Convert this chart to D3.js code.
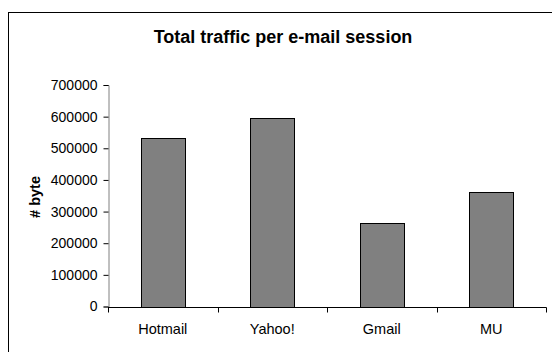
<!DOCTYPE html>
<html><head><meta charset="utf-8">
<script src="https://cdn.jsdelivr.net/npm/d3@7"></script>
<style>body{margin:0;background:#fff}svg{display:block}</style>
</head><body><svg id="c" width="552" height="352"></svg>
<script>
const categories = ["Hotmail", "Yahoo!", "Gmail", "MU"];
const values = [534000, 595000, 265000, 361000];
const yTicks = [0, 100000, 200000, 300000, 400000, 500000, 600000, 700000];
const title = "Total traffic per e-mail session";
const yLabel = "# byte";

(function () {
const svg = d3.select("#c");
const font = "'Liberation Sans', Arial, sans-serif";
svg.append("rect").attr("x", 8.5).attr("y", 12.5).attr("width", 560).attr("height", 360)
  .attr("fill", "#fff").attr("stroke", "#000").attr("stroke-width", 1);

const pl = 108, pr = 546, pt = 85, pb = 306.5;
const x = d3.scaleBand().domain(categories).range([pl, pr]).paddingInner(0.6).paddingOuter(0.3);
const xb = d3.scaleBand().domain(categories).range([pl, pr]);
const y = d3.scaleLinear().domain([0, 700000]).range([pb, pt]);

svg.append("text").attr("x", 283).attr("y", 43).attr("text-anchor", "middle")
  .attr("font-family", font).attr("font-weight", "bold").attr("font-size", 18).text(title);

svg.selectAll(".bar").data(values).enter().append("rect")
  .attr("x", (d, i) => Math.round(x(categories[i])) + 0.5)
  .attr("y", d => Math.round(y(d)) + 0.5)
  .attr("width", Math.round(x.bandwidth()))
  .attr("height", d => Math.round(y(0)) - Math.round(y(d)))
  .attr("fill", "#808080").attr("stroke", "#000").attr("stroke-width", 1);

const ya = svg.append("g").attr("transform", `translate(${pl + 0.5},0)`)
  .call(d3.axisLeft(y).tickValues(yTicks).tickSize(5).tickPadding(6).tickFormat(d3.format("d")));
ya.select(".domain").attr("stroke", "#808080");
ya.selectAll(".tick line").attr("stroke", "#000");
ya.selectAll("text").attr("font-family", font).attr("font-size", 14).attr("fill", "#000");

const xa = svg.append("g").attr("transform", `translate(0,${Math.round(pb) + 0.5})`)
  .call(d3.axisBottom(xb).tickSize(0).tickPadding(16.5));
xa.select(".domain").remove();
xa.append("line").attr("x1", pl).attr("x2", pr + 0.5).attr("stroke", "#000");
xa.selectAll(".tick text").attr("font-family", font).attr("font-size", 14.5).attr("fill", "#000");
xa.selectAll(".bnd").data(categories).enter().append("line")
  .attr("x1", d => Math.round(xb(d) + xb.bandwidth()) + 0.5)
  .attr("x2", d => Math.round(xb(d) + xb.bandwidth()) + 0.5)
  .attr("y1", 0).attr("y2", 5).attr("stroke", "#000");
xa.append("line").attr("x1", pl + 0.5).attr("x2", pl + 0.5).attr("y1", 0).attr("y2", 5).attr("stroke", "#000");

svg.append("text").attr("transform", `translate(40,197) rotate(-90)`).attr("text-anchor", "middle")
  .attr("font-family", font).attr("font-weight", "bold").attr("font-size", 14.5).text(yLabel);
})();
</script></body></html>
